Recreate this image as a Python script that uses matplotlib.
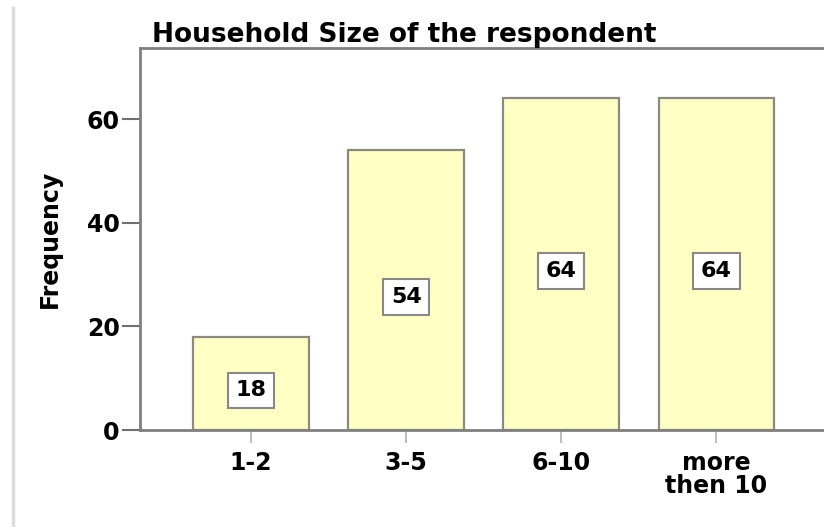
import matplotlib
matplotlib.use("Agg")
import matplotlib.pyplot as plt
from matplotlib.lines import Line2D

categories = ["1-2", "3-5", "6-10", "more\nthen 10"]
values = [18, 54, 64, 64]
yticks = [0, 20, 40, 60]
title = "Household Size of the respondent"
ylabel = "Frequency"

plt.rcParams['font.family'] = ['DejaVu Sans']

fig = plt.figure(figsize=(8.24, 5.27), dpi=100)
ax = fig.add_axes([140/824, 97/527, 688/824, 382/527])

x = list(range(len(categories)))
ax.bar(x, values, width=0.745, color="#FFFFC4", edgecolor="#8a8a80", linewidth=1.6, zorder=2)

for xi, v in zip(x, values):
    ax.annotate(str(v), xy=(xi, v/2), xytext=(0, -5), textcoords="offset points",
                ha="center", va="center", fontsize=16, fontweight="bold",
                color="black", zorder=3,
                bbox=dict(boxstyle="square,pad=0.35", facecolor="white", edgecolor="#888888", linewidth=1.5))

ax.set_xlim(-0.716, 3.72)
ax.set_ylim(0, 73.7)
ax.set_yticks(yticks)
ax.set_xticks(x)
ax.set_xticklabels(categories, fontsize=17, fontweight="bold", linespacing=0.95)
ax.set_yticklabels([str(t) for t in yticks], fontsize=17, fontweight="bold")

for s in ["left", "bottom", "top"]:
    ax.spines[s].set_color("#808080")
    ax.spines[s].set_linewidth(2)
ax.spines["right"].set_visible(False)

ax.tick_params(axis="y", length=13, width=1.5, color="#707070", pad=1.5)
ax.tick_params(axis="x", length=9, width=1.2, color="#b0b0b0", pad=6)

ax.set_ylabel(ylabel, fontsize=17, fontweight="bold", labelpad=18)
ax.set_title(title, fontsize=19, fontweight="bold", loc="left", x=12/688, pad=4)

fig.add_artist(Line2D([13/824, 13/824], [0, 1 - 8/527], color="#dcdcdc", linewidth=2.5,
                      transform=fig.transFigure))

fig.savefig("out.png", dpi=100)
